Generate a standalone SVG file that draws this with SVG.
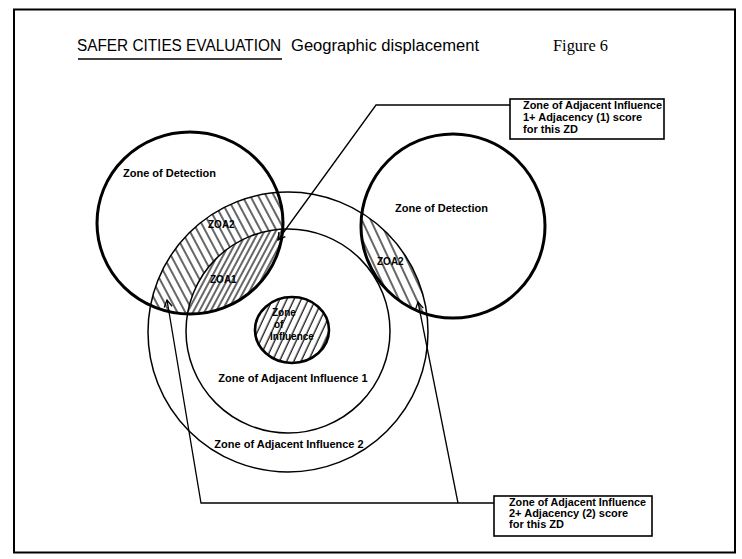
<svg xmlns="http://www.w3.org/2000/svg" width="742" height="559" viewBox="0 0 742 559">
  <style>
    .frame { fill: none; stroke: #000; stroke-width: 2; }
    .zd { fill: none; stroke: #000; stroke-width: 3; }
    .zai { fill: none; stroke: #000; stroke-width: 1.5; }
    .zi { fill: none; stroke: #000; stroke-width: 2.6; }
    .lead { fill: none; stroke: #000; stroke-width: 1.3; }
    .box { fill: #fff; stroke: #000; stroke-width: 1.6; }
    .hatch { stroke: #000; stroke-width: 1.2; }
    .title { font-family: "Liberation Sans", Arial, sans-serif; font-size: 16px; fill: #000; }
    .fig { font-family: "Liberation Serif", "Times New Roman", serif; font-size: 16px; fill: #000; }
    .lbl { font-family: "Liberation Sans", Arial, sans-serif; font-weight: bold; font-size: 11px; fill: #000; }
    .small { font-family: "Liberation Sans", Arial, sans-serif; font-weight: bold; font-size: 10px; fill: #000; }
  </style>
  <defs>
    <!-- hatch fills -->
    <pattern id="hatchBackWide" width="7" height="20" patternUnits="userSpaceOnUse" patternTransform="rotate(-28)">
      <line class="hatch" x1="3" y1="0" x2="3" y2="20"/>
    </pattern>
    <pattern id="hatchFwdDense" width="5" height="20" patternUnits="userSpaceOnUse" patternTransform="rotate(28)">
      <line class="hatch" x1="2" y1="0" x2="2" y2="20"/>
    </pattern>
    <pattern id="hatchBackRight" width="8" height="20" patternUnits="userSpaceOnUse" patternTransform="rotate(-25)">
      <line class="hatch" x1="3" y1="0" x2="3" y2="20"/>
    </pattern>
    <pattern id="hatchFwdCore" width="6.5" height="20" patternUnits="userSpaceOnUse" patternTransform="rotate(25)">
      <line class="hatch" x1="3" y1="0" x2="3" y2="20"/>
    </pattern>
    <clipPath id="clipZdLeft">
      <ellipse cx="190" cy="223" rx="93" ry="91"/>
    </clipPath>
    <clipPath id="clipZdRight">
      <circle cx="453" cy="226" r="92"/>
    </clipPath>
    <marker id="tip" viewBox="-8 -5 10 10" markerWidth="10" markerHeight="10" refX="0" refY="0" orient="auto" markerUnits="userSpaceOnUse">
      <path d="M -7 -4 L 0 0 L -7 4" fill="none" stroke="#000" stroke-width="1.3"/>
    </marker>
  </defs>

  <rect width="742" height="559" fill="#fff"/>
  <rect class="frame" x="14" y="9.5" width="721" height="543"/>

  <!-- heading -->
  <g id="heading">
    <text class="title" x="77" y="51" textLength="204" lengthAdjust="spacingAndGlyphs">SAFER CITIES EVALUATION</text>
    <line x1="78" y1="59" x2="282" y2="59" stroke="#000" stroke-width="1.6"/>
    <text class="title" x="291" y="51" textLength="188" lengthAdjust="spacingAndGlyphs">Geographic displacement</text>
    <text class="fig" x="553" y="51" textLength="55" lengthAdjust="spacingAndGlyphs">Figure 6</text>
  </g>

  <!-- hatched overlap areas -->
  <g id="zoa2-left" clip-path="url(#clipZdLeft)">
    <path d="M 148 332 a 140 140 0 1 0 280 0 a 140 140 0 1 0 -280 0 Z M 186 331 a 102 102 0 1 0 204 0 a 102 102 0 1 0 -204 0 Z" fill="url(#hatchBackWide)" fill-rule="evenodd"/>
  </g>
  <g id="zoa1" clip-path="url(#clipZdLeft)">
    <circle cx="288" cy="331" r="102" fill="url(#hatchFwdDense)"/>
  </g>
  <g id="zoa2-right" clip-path="url(#clipZdRight)">
    <path d="M 148 332 a 140 140 0 1 0 280 0 a 140 140 0 1 0 -280 0 Z M 186 331 a 102 102 0 1 0 204 0 a 102 102 0 1 0 -204 0 Z" fill="url(#hatchBackRight)" fill-rule="evenodd"/>
  </g>

  <!-- zones -->
  <g id="zone-adjacent-2">
    <circle class="zai" cx="288" cy="332" r="140"/>
    <text class="lbl" x="289" y="448" text-anchor="middle">Zone of Adjacent Influence 2</text>
  </g>
  <g id="zone-adjacent-1">
    <circle class="zai" cx="288" cy="331" r="102"/>
    <text class="lbl" x="293" y="382" text-anchor="middle">Zone of Adjacent Influence 1</text>
  </g>
  <g id="zone-detection-left">
    <ellipse class="zd" cx="190" cy="223" rx="93" ry="91"/>
    <text class="lbl" x="123" y="177">Zone of Detection</text>
  </g>
  <g id="zone-detection-right">
    <circle class="zd" cx="453" cy="226" r="92"/>
    <text class="lbl" x="395" y="212">Zone of Detection</text>
  </g>
  <g id="zone-influence">
    <ellipse cx="292" cy="330" rx="37" ry="33" fill="url(#hatchFwdCore)"/>
    <ellipse class="zi" cx="292" cy="330" rx="37" ry="33"/>
    <text class="small" x="272" y="316">Zone</text>
    <text class="small" x="274" y="328">of</text>
    <text class="small" x="270" y="340">Influence</text>
  </g>

  <!-- overlap labels -->
  <g id="zoa-labels">
    <text class="small" x="208" y="228">ZOA2</text>
    <text class="small" x="210" y="283">ZOA1</text>
    <text class="small" x="377" y="265">ZOA2</text>
  </g>

  <!-- leader lines -->
  <g id="connectors">
    <polyline class="lead" points="510,105 376,105 278,240" marker-end="url(#tip)"/>
    <polyline class="lead" points="494,503 201,503 167,300" marker-end="url(#tip)"/>
    <line class="lead" x1="458" y1="503" x2="418" y2="302" marker-end="url(#tip)"/>
  </g>

  <!-- callout boxes -->
  <g id="callout-1">
    <rect class="box" x="510" y="99" width="154" height="40"/>
    <text class="lbl" x="523" y="109" textLength="139" lengthAdjust="spacingAndGlyphs">Zone of Adjacent Influence</text>
    <text class="lbl" x="523" y="121">1+ Adjacency (1) score</text>
    <text class="lbl" x="523" y="133">for this ZD</text>
  </g>
  <g id="callout-2">
    <rect class="box" x="494" y="496" width="158" height="40"/>
    <text class="lbl" x="509" y="506" textLength="137" lengthAdjust="spacingAndGlyphs">Zone of Adjacent Influence</text>
    <text class="lbl" x="509" y="517">2+ Adjacency (2) score</text>
    <text class="lbl" x="509" y="528">for this ZD</text>
  </g>
</svg>
